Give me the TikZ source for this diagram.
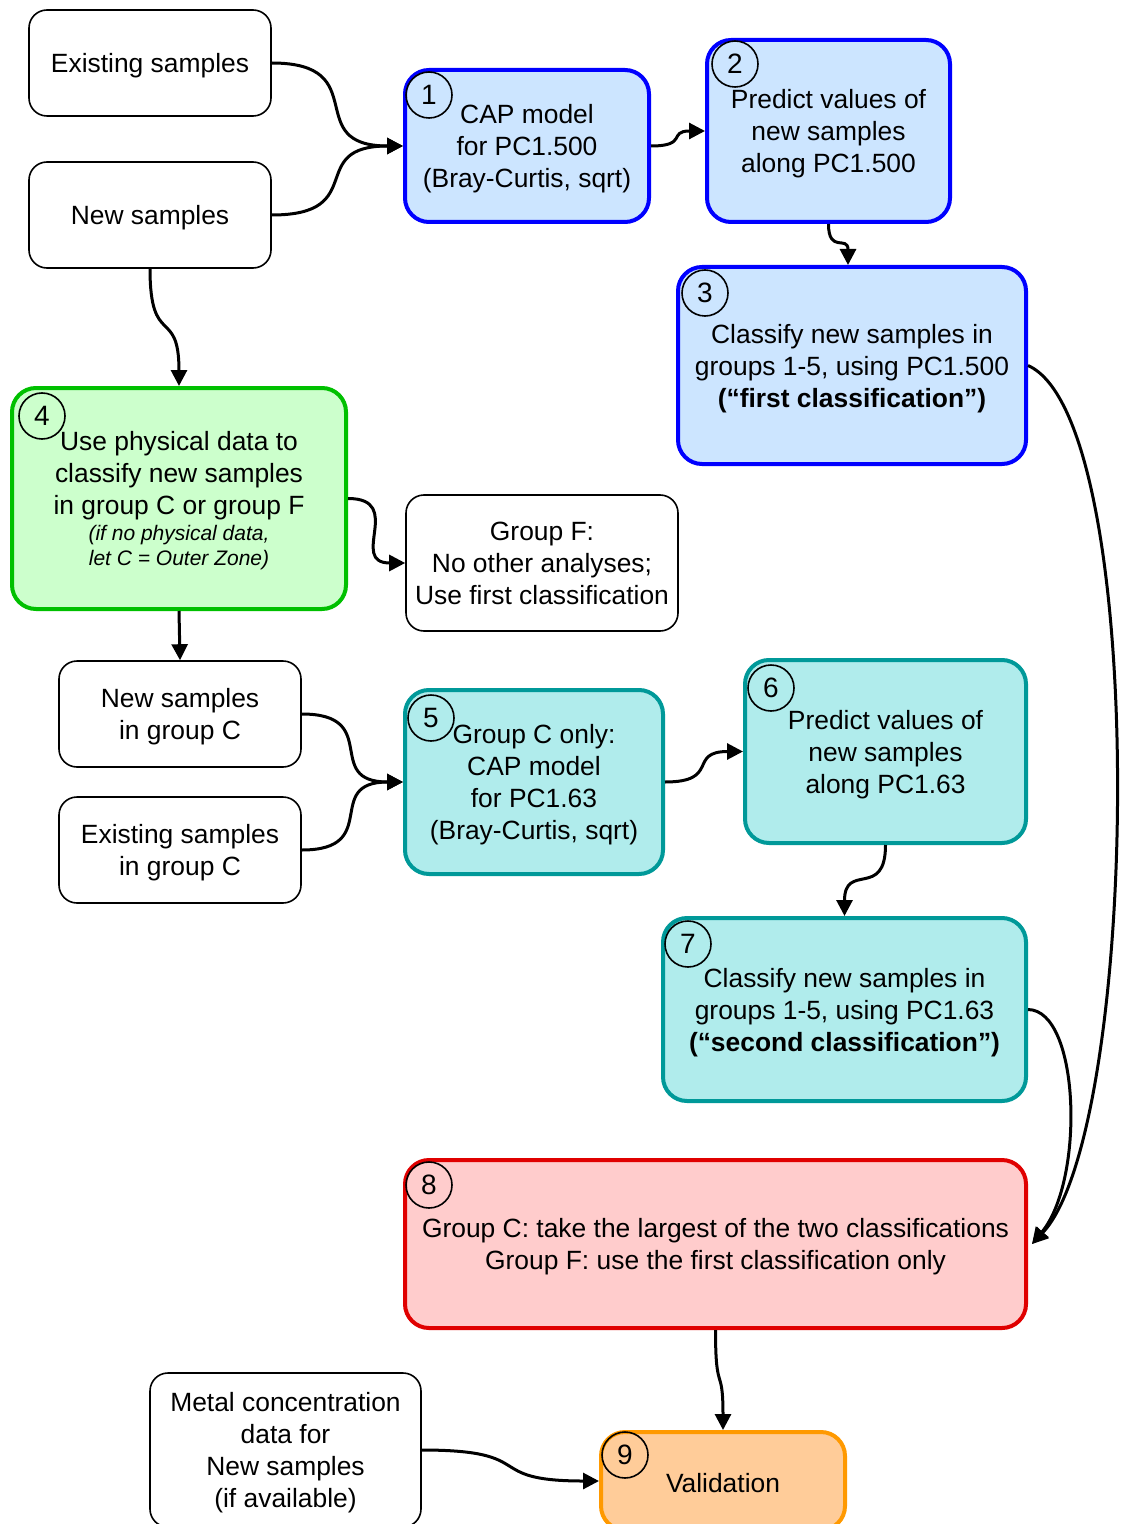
\documentclass[tikz,border=0pt]{standalone}
\usepackage{fontspec}
\setmainfont{Liberation Sans}
\usetikzlibrary{arrows.meta}
\definecolor{bluefill}{RGB}{204,229,255}
\definecolor{blueline}{RGB}{0,0,255}
\definecolor{greenfill}{RGB}{204,255,204}
\definecolor{greenline}{RGB}{0,192,0}
\definecolor{tealfill}{RGB}{176,236,236}
\definecolor{tealline}{RGB}{0,153,153}
\definecolor{redfill}{RGB}{255,204,204}
\definecolor{redline}{RGB}{224,0,0}
\definecolor{orangefill}{RGB}{255,204,153}
\definecolor{orangeline}{RGB}{255,153,0}
\begin{document}
\begin{tikzpicture}[x=0.5pt,y=-0.5pt,
  box/.style={draw, rounded corners=9pt, align=center, inner sep=0pt,
    font=\fontsize{13.2}{16}\selectfont, line width=0.8pt,
    execute at begin node={\rule{0pt}{12pt}}},
  ml/.style={text depth=-1pt},
  cbox/.style={box, rounded corners=12pt, line width=2pt},
  bluebox/.style={cbox, draw=blueline, fill=bluefill},
  greenbox/.style={cbox, draw=greenline, fill=greenfill},
  tealbox/.style={cbox, draw=tealline, fill=tealfill},
  redbox/.style={cbox, draw=redline, fill=redfill},
  orangebox/.style={cbox, draw=orangeline, fill=orangefill},
  num/.style={draw, circle, minimum size=23pt, inner sep=0pt, line width=0.8pt,
    font=\fontsize{14}{16}\selectfont},
  conn/.style={line width=1.5pt, looseness=1.7, -{Triangle[length=8pt,width=8pt]}}
]
\useasboundingbox (0,0) rectangle (1120,1524);

% boxes
\node[box, minimum width=121pt, minimum height=53pt] (exist) at (150,63) {Existing samples};
\node[box, minimum width=121pt, minimum height=53pt] (new) at (150,215) {New samples};
\node[bluebox, ml, minimum width=122pt, minimum height=76pt] (b1) at (527,146)
  {CAP model\\for PC1.500\\(Bray-Curtis, sqrt)};
\node[bluebox, ml, minimum width=121.5pt, minimum height=91pt] (b2) at (828.5,131)
  {Predict values of\\new samples\\along PC1.500};
\node[bluebox, ml, minimum width=174pt, minimum height=98.5pt] (b3) at (852,365.5)
  {Classify new samples in\\groups 1-5, using PC1.500\\\textbf{(“first classification”)}};
\node[greenbox, ml, minimum width=167pt, minimum height=110.5pt] (b4) at (179,498.5)
  {Use physical data to\\classify new samples\\in group C or group F\\[-3pt]
   {\fontsize{10.5}{12.5}\selectfont\itshape (if no physical data,}\\[-3.5pt]
   {\fontsize{10.5}{12.5}\selectfont\itshape let C = Outer Zone)}};
\node[box, minimum width=136pt, minimum height=68pt] (gf) at (542,563)
  {Group F:\\No other analyses;\\Use first classification};
\node[box, ml, minimum width=121pt, minimum height=53pt] (newc) at (180,714)
  {New samples\\in group C};
\node[box, ml, minimum width=121pt, minimum height=53pt] (exc) at (180,850)
  {Existing samples\\in group C};
\node[tealbox, ml, minimum width=129pt, minimum height=92pt] (b5) at (534,782)
  {Group C only:\\CAP model\\for PC1.63\\(Bray-Curtis, sqrt)};
\node[tealbox, ml, minimum width=140.5pt, minimum height=91.5pt] (b6) at (885.5,751.5)
  {Predict values of\\new samples\\along PC1.63};
\node[tealbox, ml, minimum width=181.5pt, minimum height=91.5pt] (b7) at (844.5,1009.5)
  {Classify new samples in\\groups 1-5, using PC1.63\\\textbf{(“second classification”)}};
\node[redbox, ml, minimum width=310.5pt, minimum height=84pt] (b8) at (715.5,1244)
  {Group C: take the largest of the two classifications\\Group F: use the first classification only};
\node[box, ml, minimum width=135.5pt, minimum height=77pt] (metal) at (285.5,1450)
  {Metal concentration\\data for\\New samples\\(if available)};
\node[orangebox, minimum width=122pt, minimum height=49pt] (b9) at (723,1481)
  {Validation};

% number circles
\node[num] (n1) at (429,95) {1};
\node[num] (n2) at (735,64) {2};
\node[num] (n3) at (705,293) {3};
\node[num] (n4) at (42,416) {4};
\node[num] (n5) at (431,718) {5};
\node[num] (n6) at (771,688) {6};
\node[num] (n7) at (688,944) {7};
\node[num] (n8) at (429,1185) {8};
\node[num] (n9) at (625,1455) {9};

% connectors
\draw[conn] (exist.east) to[out=0,in=180] (b1.west);
\draw[conn] (new.east) to[out=0,in=180] (b1.west);
\draw[conn] (b1.east) to[out=0,in=180] (b2.west);
\draw[conn] (b2.south) to[out=-90,in=90] ([xshift=-2pt]b3.north);
\draw[conn] (new.south) to[out=-90,in=90] (b4.north);
\draw[conn] (b4.east) to[out=0,in=180] (gf.west);
\draw[conn] (b4.south) -- (newc.north);
\draw[conn] (newc.east) to[out=0,in=180] (b5.west);
\draw[conn] (exc.east) to[out=0,in=180] (b5.west);
\draw[conn] (b5.east) to[out=0,in=180] (b6.west);
\draw[conn] (b6.south) to[out=-90,in=90] (b7.north);
\coordinate (b8in) at ([xshift=2pt]b8.east);
\draw[conn] (b3.east) .. controls (1150,420) and (1140,1130) .. (b8in);
\draw[conn] (b7.east) .. controls (1080,1010) and (1085,1180) .. (b8in);
\draw[conn] (b8.south) to[out=-90,in=90] (b9.north);
\draw[conn] (metal.east) to[out=0,in=180] (b9.west);
\end{tikzpicture}
\end{document}
